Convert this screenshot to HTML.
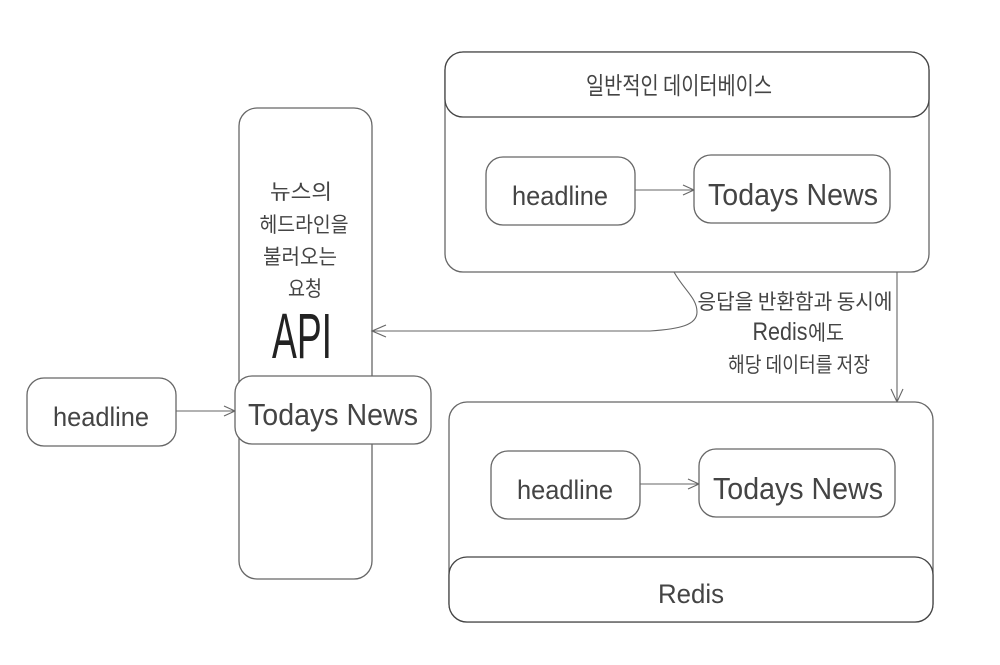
<!DOCTYPE html>
<html><head><meta charset="utf-8"><style>
html,body{margin:0;padding:0;background:#fff;width:1000px;height:665px;overflow:hidden}
svg{display:block}
text{font-family:"Liberation Sans","WenQuanYi Zen Hei","Noto Sans CJK KR",sans-serif;fill:#444;text-anchor:middle}
.k{font-family:"WenQuanYi Zen Hei","Noto Sans CJK KR",sans-serif;font-size:21px;fill:#444}
rect{fill:#fff;stroke:#666;stroke-width:1.3}
.d{stroke:#444}
path.l{fill:none;stroke:#666;stroke-width:1.1}
</style></head><body>
<svg width="1000" height="665" viewBox="0 0 1000 665" xmlns="http://www.w3.org/2000/svg">
<!-- API column -->
<rect x="239" y="108" width="133" height="471" rx="18"/>
<text class="k" x="301" y="199" textLength="62" lengthAdjust="spacingAndGlyphs">뉴스의</text>
<text class="k" x="304" y="232" textLength="89" lengthAdjust="spacingAndGlyphs">헤드라인을</text>
<text class="k" x="300" y="264" textLength="74" lengthAdjust="spacingAndGlyphs">불러오는</text>
<text class="k" x="305" y="296" textLength="34" lengthAdjust="spacingAndGlyphs">요청</text>
<text x="302" y="358" font-size="64" textLength="60" lengthAdjust="spacingAndGlyphs" style="fill:#222">API</text>
<!-- left nodes -->
<rect x="27" y="378" width="149" height="68" rx="17"/>
<text x="101" y="426" font-size="27" textLength="96" lengthAdjust="spacingAndGlyphs">headline</text>
<path class="l" d="M176 411H235M224 406L235 411L224 416"/>
<rect x="235" y="376" width="196" height="68" rx="17"/>
<text x="333" y="425" font-size="31" textLength="170" lengthAdjust="spacingAndGlyphs">Todays News</text>
<!-- top DB -->
<rect x="445" y="52" width="484" height="220" rx="18"/>
<rect class="d" x="445" y="52" width="484" height="65" rx="18"/>
<text class="k" x="679" y="94" style="font-size:24px" textLength="186" lengthAdjust="spacingAndGlyphs">일반적인 데이터베이스</text>
<rect x="486" y="157" width="149" height="68" rx="17"/>
<text x="560" y="205" font-size="27" textLength="96" lengthAdjust="spacingAndGlyphs">headline</text>
<path class="l" d="M635 190H694M683 185L694 190L683 195"/>
<rect x="694" y="155" width="196" height="68" rx="17"/>
<text x="793" y="205" font-size="31" textLength="170" lengthAdjust="spacingAndGlyphs">Todays News</text>
<!-- connectors -->
<path class="l" d="M674 272C684 290 697 298 697 312C697 325 680 329 650 331L372 331M386 325L372 331L386 337"/>
<path class="l" d="M897 272V402M891 389L897 402L903 389"/>
<text class="k" x="795" y="309" textLength="195" lengthAdjust="spacingAndGlyphs">응답을 반환함과 동시에</text>
<text x="780" y="340" font-size="25" textLength="55" lengthAdjust="spacingAndGlyphs">Redis</text>
<text class="k" x="826" y="340" textLength="36" lengthAdjust="spacingAndGlyphs">에도</text>
<text class="k" x="799" y="372" textLength="142" lengthAdjust="spacingAndGlyphs">해당 데이터를 저장</text>
<!-- Redis -->
<rect x="449" y="402" width="484" height="220" rx="18"/>
<rect class="d" x="449" y="557" width="484" height="65" rx="18"/>
<text x="691" y="603" font-size="27" textLength="66" lengthAdjust="spacingAndGlyphs">Redis</text>
<rect x="491" y="451" width="149" height="68" rx="17"/>
<text x="565" y="499" font-size="27" textLength="96" lengthAdjust="spacingAndGlyphs">headline</text>
<path class="l" d="M640 484H699M688 479L699 484L688 489"/>
<rect x="699" y="449" width="196" height="68" rx="17"/>
<text x="798" y="499" font-size="31" textLength="170" lengthAdjust="spacingAndGlyphs">Todays News</text>
</svg>
</body></html>
